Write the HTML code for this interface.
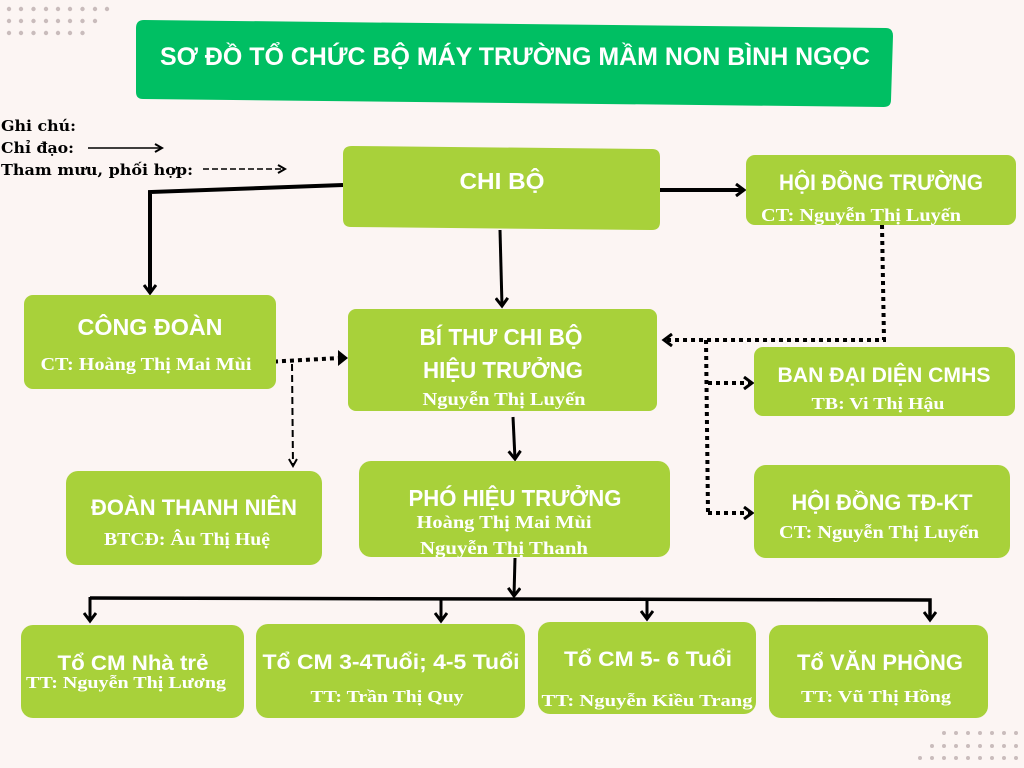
<!DOCTYPE html>
<html><head><meta charset="utf-8"><style>
html,body{margin:0;padding:0;background:#fcf5f3;}
svg{display:block}
.t{font-family:"Liberation Sans",sans-serif;font-weight:bold;fill:#fff;text-anchor:middle}
.s{font-family:"Liberation Serif",serif;font-weight:bold;fill:#fff;text-anchor:middle}
.l{font-family:"DejaVu Serif","Liberation Serif",serif;font-weight:bold;fill:#000;font-size:15px}
</style></head><body>
<svg width="1024" height="768" viewBox="0 0 1024 768" xmlns="http://www.w3.org/2000/svg">
<defs>
<marker id="a" markerWidth="10" markerHeight="10" refX="8" refY="5" orient="auto" markerUnits="userSpaceOnUse"><path d="M1,1 L8,5 L1,9" fill="none" stroke="#000" stroke-width="2"/></marker>
<marker id="b" markerWidth="14" markerHeight="14" refX="10" refY="7" orient="auto" markerUnits="userSpaceOnUse"><path d="M2,1 L10,7 L2,13" fill="none" stroke="#000" stroke-width="3"/></marker>
</defs>
<!-- dots -->
<g fill="#c9bcbc">
<circle cx="9" cy="9" r="2.2"/><circle cx="21" cy="9" r="2.2"/><circle cx="33.5" cy="9" r="2.2"/><circle cx="46" cy="9" r="2.2"/><circle cx="58" cy="9" r="2.2"/><circle cx="70" cy="9" r="2.2"/><circle cx="82.5" cy="9" r="2.2"/><circle cx="95" cy="9" r="2.2"/><circle cx="107" cy="9" r="2.2"/>
<circle cx="9" cy="21" r="2.2"/><circle cx="21" cy="21" r="2.2"/><circle cx="33.5" cy="21" r="2.2"/><circle cx="46" cy="21" r="2.2"/><circle cx="58" cy="21" r="2.2"/><circle cx="70" cy="21" r="2.2"/><circle cx="82.5" cy="21" r="2.2"/><circle cx="95" cy="21" r="2.2"/>
<circle cx="9" cy="33" r="2.2"/><circle cx="21" cy="33" r="2.2"/><circle cx="33.5" cy="33" r="2.2"/><circle cx="46" cy="33" r="2.2"/><circle cx="58" cy="33" r="2.2"/><circle cx="70" cy="33" r="2.2"/><circle cx="82.5" cy="33" r="2.2"/>
<circle cx="944" cy="733" r="2"/><circle cx="956" cy="733" r="2"/><circle cx="968" cy="733" r="2"/><circle cx="980" cy="733" r="2"/><circle cx="992" cy="733" r="2"/><circle cx="1004" cy="733" r="2"/><circle cx="1016" cy="733" r="2"/>
<circle cx="932" cy="746" r="2"/><circle cx="944" cy="746" r="2"/><circle cx="956" cy="746" r="2"/><circle cx="968" cy="746" r="2"/><circle cx="980" cy="746" r="2"/><circle cx="992" cy="746" r="2"/><circle cx="1004" cy="746" r="2"/><circle cx="1016" cy="746" r="2"/>
<circle cx="920" cy="758" r="2"/><circle cx="932" cy="758" r="2"/><circle cx="944" cy="758" r="2"/><circle cx="956" cy="758" r="2"/><circle cx="968" cy="758" r="2"/><circle cx="980" cy="758" r="2"/><circle cx="992" cy="758" r="2"/><circle cx="1004" cy="758" r="2"/><circle cx="1016" cy="758" r="2"/>
</g>

<!-- title -->
<path d="M144,20 L886,28 Q893,28 893,36 L891,100 Q891,107 884,107 L143,99 Q136,99 136,92 L136,28 Q136,20 144,20Z" fill="#00bf63"/>
<text class="t" x="515" y="65" font-size="25" textLength="710" lengthAdjust="spacingAndGlyphs">SƠ ĐỒ TỔ CHỨC BỘ MÁY TRƯỜNG MẦM NON BÌNH NGỌC</text>

<!-- legend -->
<text class="l" x="1" y="131" textLength="75" lengthAdjust="spacingAndGlyphs">Ghi chú:</text>
<text class="l" x="1" y="153" textLength="73" lengthAdjust="spacingAndGlyphs">Chỉ đạo:</text>
<text class="l" x="1" y="175" textLength="192" lengthAdjust="spacingAndGlyphs">Tham mưu, phối hợp:</text>
<line x1="88" y1="148" x2="162" y2="148" stroke="#000" stroke-width="1.5" marker-end="url(#a)"/>
<line x1="203" y1="169" x2="285" y2="169" stroke="#000" stroke-width="1.5" stroke-dasharray="6,3" marker-end="url(#a)"/>

<!-- connectors -->
<g stroke="#000" fill="none">
<polyline points="343,185 150,192 150,293" stroke-width="4" marker-end="url(#b)"/>
<line x1="500" y1="230" x2="502" y2="306" stroke-width="3" marker-end="url(#b)"/>
<line x1="660" y1="190" x2="744" y2="190" stroke-width="4" marker-end="url(#b)"/>
<polyline points="882,225 884,340 664,340" stroke-width="4" stroke-dasharray="4,4" marker-end="url(#b)"/>
<line x1="706" y1="340" x2="708" y2="513" stroke-width="4" stroke-dasharray="4,4"/>
<line x1="708" y1="383" x2="752" y2="383" stroke-width="4" stroke-dasharray="4,4" marker-end="url(#b)"/>
<line x1="708" y1="513" x2="752" y2="513" stroke-width="4" stroke-dasharray="4,4" marker-end="url(#b)"/>
<line x1="266" y1="362" x2="340" y2="358" stroke-width="4" stroke-dasharray="4,4"/>
<path d="M258,363 L268,355 L268,371Z" fill="#000" stroke="none"/>
<path d="M348,358 L338,350 L338,366Z" fill="#000" stroke="none"/>
<line x1="292" y1="364" x2="293" y2="466" stroke-width="2" stroke-dasharray="7,4" marker-end="url(#a)"/>
<line x1="513" y1="417" x2="515" y2="459" stroke-width="3" marker-end="url(#b)"/>
<line x1="515" y1="558" x2="514" y2="596" stroke-width="3" marker-end="url(#b)"/>
<polyline points="90,598 930,600 930,620" stroke-width="3.5" marker-end="url(#b)"/>
<line x1="90" y1="597" x2="90" y2="621" stroke-width="3" marker-end="url(#b)"/>
<line x1="441" y1="598" x2="441" y2="621" stroke-width="3" marker-end="url(#b)"/>
<line x1="647" y1="599" x2="647" y2="619" stroke-width="3" marker-end="url(#b)"/>
</g>

<!-- boxes -->
<g fill="#a8d13a">
<path d="M352,146 L652,149 Q660,149 660,157 L660,222 Q660,230 652,230 L351,227 Q343,227 343,219 L343,154 Q343,146 352,146Z"/>
<rect x="746" y="155" width="270" height="70" rx="9"/>
<rect x="24" y="295" width="252" height="94" rx="9"/>
<rect x="348" y="309" width="309" height="102" rx="8"/>
<rect x="754" y="347" width="261" height="69" rx="9"/>
<rect x="66" y="471" width="256" height="94" rx="12"/>
<rect x="359" y="461" width="311" height="96" rx="12"/>
<rect x="754" y="465" width="256" height="93" rx="12"/>
<rect x="21" y="625" width="223" height="93" rx="12"/>
<rect x="256" y="624" width="269" height="94" rx="12"/>
<rect x="538" y="622" width="218" height="92" rx="12"/>
<rect x="769" y="625" width="219" height="93" rx="12"/>
</g>

<text class="t" x="502" y="189" font-size="23" textLength="85" lengthAdjust="spacingAndGlyphs">CHI BỘ</text>
<text class="t" x="881" y="190" font-size="22" textLength="204" lengthAdjust="spacingAndGlyphs">HỘI ĐỒNG TRƯỜNG</text>
<text class="s" x="861" y="221" font-size="18" textLength="200" lengthAdjust="spacingAndGlyphs">CT: Nguyễn Thị Luyến</text>
<text class="t" x="150" y="335" font-size="23" textLength="145" lengthAdjust="spacingAndGlyphs">CÔNG ĐOÀN</text>
<text class="s" x="146" y="370" font-size="18" textLength="211" lengthAdjust="spacingAndGlyphs">CT: Hoàng Thị Mai Mùi</text>
<text class="t" x="501" y="345" font-size="23" textLength="163" lengthAdjust="spacingAndGlyphs">BÍ THƯ CHI BỘ</text>
<text class="t" x="503" y="378" font-size="23" textLength="160" lengthAdjust="spacingAndGlyphs">HIỆU TRƯỞNG</text>
<text class="s" x="504" y="405" font-size="18" textLength="163" lengthAdjust="spacingAndGlyphs">Nguyễn Thị Luyến</text>
<text class="t" x="884" y="382" font-size="21" textLength="213" lengthAdjust="spacingAndGlyphs">BAN ĐẠI DIỆN CMHS</text>
<text class="s" x="878" y="409" font-size="17" textLength="133" lengthAdjust="spacingAndGlyphs">TB: Vi Thị Hậu</text>
<text class="t" x="194" y="515" font-size="22" textLength="206" lengthAdjust="spacingAndGlyphs">ĐOÀN THANH NIÊN</text>
<text class="s" x="187" y="545" font-size="18" textLength="166" lengthAdjust="spacingAndGlyphs">BTCĐ: Âu Thị Huệ</text>
<text class="t" x="515" y="506" font-size="23" textLength="213" lengthAdjust="spacingAndGlyphs">PHÓ HIỆU TRƯỞNG</text>
<text class="s" x="504" y="528" font-size="18" textLength="175" lengthAdjust="spacingAndGlyphs">Hoàng Thị Mai Mùi</text>
<text class="s" x="504" y="554" font-size="18" textLength="168" lengthAdjust="spacingAndGlyphs">Nguyễn Thị Thanh</text>
<text class="t" x="882" y="510" font-size="22" textLength="181" lengthAdjust="spacingAndGlyphs">HỘI ĐỒNG TĐ-KT</text>
<text class="s" x="879" y="538" font-size="18" textLength="200" lengthAdjust="spacingAndGlyphs">CT: Nguyễn Thị Luyến</text>
<text class="t" x="133" y="670" font-size="21" textLength="151" lengthAdjust="spacingAndGlyphs">Tổ CM Nhà trẻ</text>
<text class="s" x="126" y="688" font-size="17" textLength="200" lengthAdjust="spacingAndGlyphs">TT: Nguyễn Thị Lương</text>
<text class="t" x="391" y="669" font-size="21" textLength="257" lengthAdjust="spacingAndGlyphs">Tổ CM 3-4Tuổi; 4-5 Tuổi</text>
<text class="s" x="387" y="702" font-size="17" textLength="153" lengthAdjust="spacingAndGlyphs">TT: Trần Thị Quy</text>
<text class="t" x="648" y="666" font-size="21" textLength="168" lengthAdjust="spacingAndGlyphs">Tổ CM 5- 6 Tuổi</text>
<text class="s" x="647" y="706" font-size="17" textLength="211" lengthAdjust="spacingAndGlyphs">TT: Nguyễn Kiều Trang</text>
<text class="t" x="880" y="670" font-size="22" textLength="166" lengthAdjust="spacingAndGlyphs">Tổ VĂN PHÒNG</text>
<text class="s" x="876" y="702" font-size="17" textLength="150" lengthAdjust="spacingAndGlyphs">TT: Vũ Thị Hồng</text>
</svg>
</body></html>
